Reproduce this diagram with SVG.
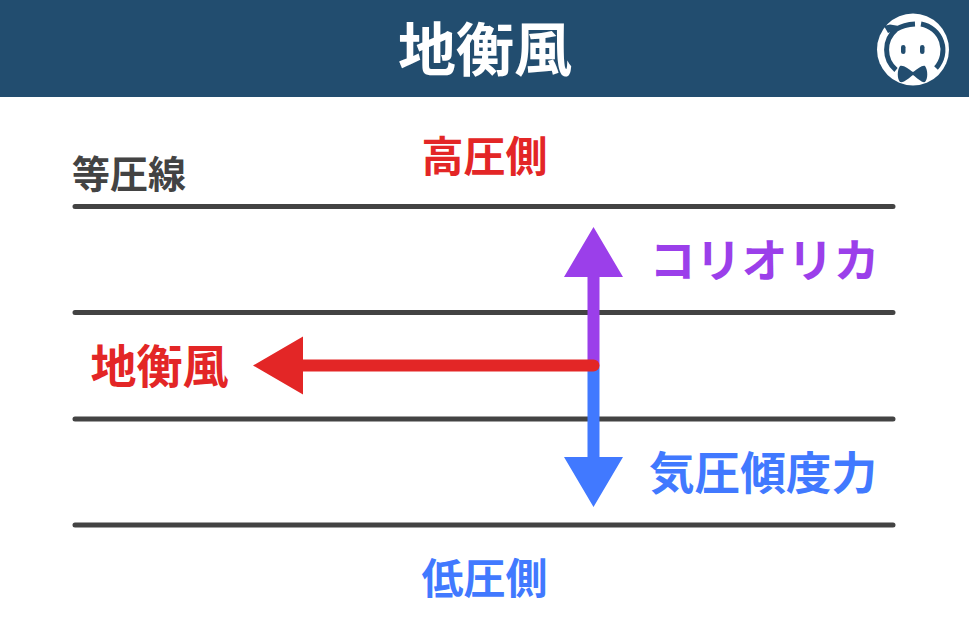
<svg xmlns="http://www.w3.org/2000/svg" width="969" height="632" viewBox="0 0 969 632">
<style>
text{font-family:"Noto Sans CJK JP","Noto Sans",sans-serif;text-anchor:middle}
.b{font-weight:700}
.l{stroke:#434343;stroke-width:5;stroke-linecap:round;fill:none}
.red{fill:#e32626}.pur{fill:#9b3fea}.blu{fill:#4179ff}
</style>
<rect id="header" x="0" y="0" width="969" height="97" fill="#224d6f"/>
<text class="b" x="485" y="71" font-size="58" fill="#fff">地衡風</text>
<g id="logo">
<circle cx="913" cy="49.500" r="36" fill="#fff"/>
<path d="M896 70A26.500 26.500 0 0 1 896 29.500Q904 24.500 915 24" fill="none" stroke="#224d6f" stroke-width="5"/>
<path d="M884 26L890 24.500 899 26 896 30 888 33Z" fill="#224d6f"/>
<path d="M921 24A26.500 26.500 0 0 1 936 68" fill="none" stroke="#224d6f" stroke-width="5"/>
<rect x="901" y="45" width="4.500" height="9" rx="2.250" fill="#224d6f"/>
<rect x="920" y="45" width="4.500" height="9" rx="2.250" fill="#224d6f"/>
<path d="M913 72C908 69 904 65 900 66C897 70 897 79 900 82C904 83 909 78 913 75C917 78 922 83 925 82C928 79 928 70 925 66C922 65 918 69 913 72Z" fill="#224d6f"/>
</g>
<g id="isobars">
<text class="b" x="129" y="188" font-size="38" fill="#434343">等圧線</text>
<path class="l" d="M75 206.500H893M75 312.500H893M75 419H893M75 525H893"/>
</g>
<g id="high"><text class="b red" x="484.500" y="172" font-size="42">高圧側</text></g>
<g id="low"><text class="b blu" x="484.500" y="594" font-size="42">低圧側</text></g>
<g id="connectors">
<path class="pur" d="M587.500 366V277H564L593.500 227 623 277H599.500V366Z"/>
<path class="blu" d="M587.500 366V457H564L593.500 507 623 457H599.500V366Z"/>
<path class="red" d="M593.500 359.500A6 6 0 0 1 593.500 371.500H303V394.500L253 365.500 303 336.500V359.500Z"/>
</g>
<g id="coriolis"><text class="b pur" x="764.500" y="277" font-size="46">コリオリカ</text></g>
<g id="pressure"><text class="b blu" x="763" y="490" font-size="45.600">気圧傾度力</text></g>
<g id="geo"><text class="b red" x="159.500" y="383" font-size="46">地衡風</text></g>
</svg>
